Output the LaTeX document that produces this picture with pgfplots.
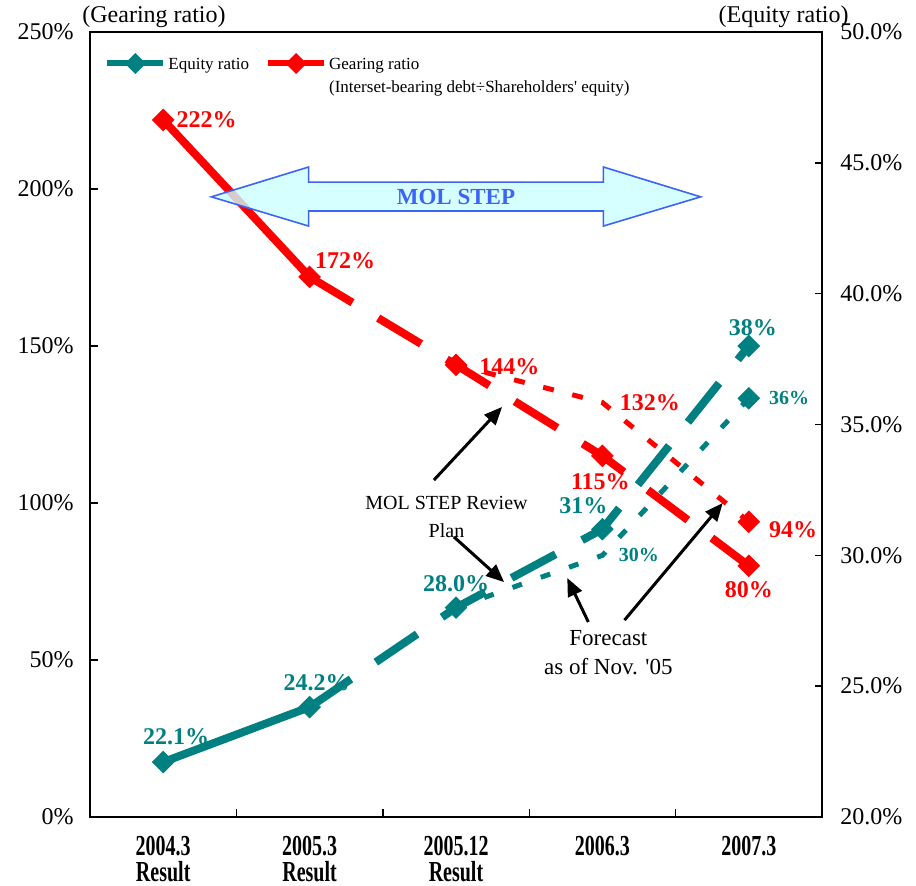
\documentclass[border=0pt]{standalone}
\usepackage{fontspec}
\setmainfont{Liberation Serif}
\usepackage{graphicx}
\usepackage{pgfplots}
\pgfplotsset{compat=1.18}
\usetikzlibrary{arrows.meta}
\definecolor{eq}{RGB}{0,128,128}
\definecolor{ge}{RGB}{255,0,0}
\definecolor{molfill}{RGB}{204,255,255}
\definecolor{molblue}{RGB}{60,100,245}
\newcommand\xl[1]{\scalebox{1}[1.45]{#1}}
\begin{document}
\begin{tikzpicture}
\path[use as bounding box] (-45pt,-34pt) rectangle (413pt,408.5pt);
\pgfplotsset{
 common/.style={scale only axis, width=366pt, height=392.5pt, xmin=-0.5, xmax=4.5, clip=false,
   axis line style={line width=1pt}, tick style={black, line width=0.7pt}, tick align=inside,
   major tick length=4pt, minor tick length=4pt},
 mk/.style={only marks, mark=square*, mark size=3.8pt, mark options={rotate=45}},
}
\begin{axis}[common, ymin=0, ymax=250, ytick={0,50,...,250},
  yticklabel={\pgfmathprintnumber[assume math mode=true]{\tick}\%},
  yticklabel style={font=\fontsize{12}{14}\selectfont, inner sep=0pt, xshift=-8pt},
  ytick pos=left, xtick pos=left,
  xtick={0,1,2,3,4},
  xticklabels={{\xl{2004.3}\\\xl{Result}},{\xl{2005.3}\\\xl{Result}},{\xl{2005.12}\\\xl{Result}},{\xl{2006.3}},{\xl{2007.3}}},
  major x tick style={draw=none},
  minor xtick={0.5,1.5,2.5,3.5},
  xticklabel style={font=\bfseries\fontsize{10}{13}\selectfont, align=center, inner sep=0pt, yshift=-9.5pt},
  legend style={at={(0,1)}, anchor=north west, xshift=7pt, yshift=-9.5pt, draw=none, fill=none, inner sep=0pt,
    font=\fontsize{8.5}{11.5}\selectfont, cells={anchor=base west}, nodes={inner sep=1pt},
    /tikz/every even column/.append style={column sep=7pt}},
  legend columns=2,
  legend image code/.code={\draw[mark repeat=2,mark phase=2,#1] plot coordinates {(0pt,3pt) (14pt,3pt) (28pt,3pt)};},
]
\addlegendimage{eq, line width=3pt, mark=square*, mark size=2.2pt, mark options={rotate=45}}
\addlegendentry{Equity ratio}
\addlegendimage{ge, line width=3pt, mark=square*, mark size=2.2pt, mark options={rotate=45}}
\addlegendentry{\begin{tabular}[t]{@{}l@{}}Gearing ratio\\(Interset-bearing debt÷Shareholders\textquotesingle{} equity)\end{tabular}}

% gearing ratio
\addplot[ge, line width=2.5pt, dash pattern=on 5.5pt off 9.5pt] coordinates {(2,144) (3,132) (4,94)};
\addplot[ge, line width=4pt, line join=round] coordinates {(0,222) (1,172)};
\addplot[ge, line width=4pt, line join=round, dash pattern=on 25pt off 15pt] coordinates {(1,172) (2,144) (3,115) (4,80)};
\addplot[ge, mk] coordinates {(0,222) (1,172) (2,144) (3,115) (4,80) (4,94)};

% MOL STEP arrow
\filldraw[fill=molfill, draw=molblue, line width=0.8pt, fill opacity=0.8]
 (axis cs:0.329,197.5) -- (axis cs:0.993,207.0) -- (axis cs:0.993,202.2) -- (axis cs:3.007,202.2) -- (axis cs:3.007,207.0)
 -- (axis cs:3.671,197.5) -- (axis cs:3.007,188.2) -- (axis cs:3.007,193.0) -- (axis cs:0.993,193.0) -- (axis cs:0.993,188.2) -- cycle;
\node[font=\bfseries\fontsize{11.5}{13}\selectfont, text=molblue] at (axis cs:2,197.5) {MOL STEP};

% labels
\begin{scope}[every node/.style={font=\bfseries\fontsize{12}{14}\selectfont, text=ge, inner sep=0pt}]
\node[anchor=west, xshift=6.5pt] at (axis cs:0,222) {222\%};
\node[anchor=west, xshift=2.5pt, yshift=8pt] at (axis cs:1,172) {172\%};
\node[anchor=west, xshift=11.5pt, yshift=-1pt] at (axis cs:2,144) {144\%};
\node[anchor=west, xshift=8.5pt] at (axis cs:3,132) {132\%};
\node[xshift=-1pt, yshift=-13pt] at (axis cs:3,115) {115\%};
\node[anchor=west, xshift=10pt, yshift=-4pt] at (axis cs:4,94) {94\%};
\node[yshift=-12pt] at (axis cs:4,80) {80\%};
\end{scope}

% annotations
\begin{scope}[line width=1.5pt, -{Triangle[length=9pt,width=7.5pt]}]
\draw (axis cs:1.849,107.3) -- (axis cs:2.315,130.6);
\draw (axis cs:1.986,89.2) -- (axis cs:2.329,74.8);
\draw (axis cs:2.904,62.1) -- (axis cs:2.760,76.1);
\draw (axis cs:3.151,62.7) -- (axis cs:3.822,100.0);
\end{scope}
\node[align=center, font=\fontsize{10}{14}\selectfont] at (axis cs:1.935,95.7) {MOL STEP Review\\Plan};
\node[align=center, font=\fontsize{11.5}{14.5}\selectfont] at (axis cs:3.041,52.4) {Forecast\\as of Nov. \textquotesingle05};

\node[anchor=base west, inner sep=0pt, font=\fontsize{12}{14}\selectfont, xshift=-4pt, yshift=5pt] at (rel axis cs:0,1) {(Gearing ratio)};
\node[anchor=base east, inner sep=0pt, font=\fontsize{12}{14}\selectfont, xshift=13.5pt, yshift=5pt] at (rel axis cs:1,1) {(Equity ratio)};
\end{axis}

\begin{axis}[common, ymin=20, ymax=50, ytick={20,25,...,50},
  axis x line=none, axis y line*=right,
  yticklabel={\pgfmathprintnumber[fixed,fixed zerofill,precision=1,assume math mode=true]{\tick}\%},
  yticklabel style={font=\fontsize{12}{14}\selectfont, inner sep=0pt, xshift=9pt},
  major tick length=3.5pt,
]
\addplot[eq, line width=2.5pt, dash pattern=on 5pt off 10pt] coordinates {(2,28.0) (3,30) (4,36)};
\addplot[eq, line width=4pt, line join=round] coordinates {(0,22.1) (1,24.2)};
\addplot[eq, line width=4pt, line join=round, dash pattern=on 25pt off 15pt] coordinates {(1,24.2) (2,28.0) (3,31) (4,38)};
\addplot[eq, mk] coordinates {(0,22.1) (1,24.2) (2,28.0) (3,31) (4,38) (4,36)};

\begin{scope}[every node/.style={font=\bfseries\fontsize{12}{14}\selectfont, text=eq, inner sep=0pt}]
\node[xshift=6.5pt, yshift=12.5pt] at (axis cs:0,22.1) {22.1\%};
\node[xshift=3.5pt, yshift=12pt] at (axis cs:1,24.2) {24.2\%};
\node[yshift=12pt] at (axis cs:2,28.0) {28.0\%};
\node[xshift=-9.5pt, yshift=11.5pt] at (axis cs:3,31) {31\%};
\node[xshift=2pt, yshift=9pt] at (axis cs:4,38) {38\%};
\node[anchor=west, xshift=8pt, font=\bfseries\fontsize{10}{12}\selectfont] at (axis cs:3,30) {30\%};
\node[anchor=west, xshift=10pt, font=\bfseries\fontsize{10}{12}\selectfont] at (axis cs:4,36) {36\%};
\end{scope}
\end{axis}
\end{tikzpicture}
\end{document}
